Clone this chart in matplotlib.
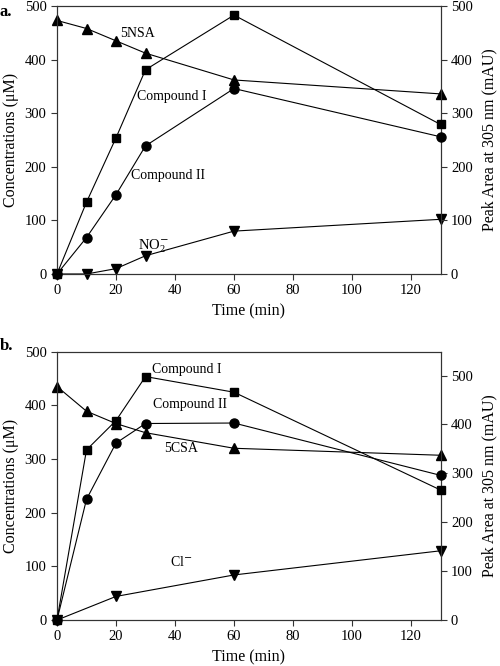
import matplotlib
matplotlib.use("Agg")
import matplotlib.pyplot as plt

plt.rcParams['font.family'] = ['Liberation Serif', 'DejaVu Serif']
plt.rcParams['mathtext.fontset'] = 'custom'
plt.rcParams['mathtext.rm'] = 'Liberation Serif'
plt.rcParams['mathtext.it'] = 'Liberation Serif:italic'

# panel a data
time_a = [0, 10, 20, 30, 60, 130]
nsa_a = [473, 458, 435, 412, 362, 336]          # uM (left)
no2_a = [0, 0, 10, 34, 80, 102]                 # uM (left)
comp1_a = [0, 134, 254, 381, 483, 279]          # mAU (right)
comp2_a = [0, 68, 148, 239, 346, 256]           # mAU (right)

# panel b data
time_b = [0, 10, 20, 30, 60, 130]
csa_b = [435, 389, 366, 349, 320, 307]          # uM (left)
time_cl = [0, 20, 60, 130]
cl_b = [0, 44, 84, 129]                         # uM (left)
comp1_b = [0, 348, 408, 498, 466, 266]          # mAU (right)
comp2_b = [0, 247, 362, 402, 403, 296]          # mAU (right)

fig = plt.figure(figsize=(5, 6.66), dpi=100)

def setup(ax, ax2, right_max):
    ax.set_xlim(0, 130)
    ax.set_ylim(0, 500)
    ax2.set_ylim(0, right_max)
    ax.set_xticks([0, 20, 40, 60, 80, 100, 120])
    ax.set_yticks([0, 100, 200, 300, 400, 500])
    ax2.set_yticks([0, 100, 200, 300, 400, 500])
    for a in (ax, ax2):
        a.tick_params(direction='out', length=4, width=0.8, labelsize=10.5, color='#333333')
        for s in a.spines.values():
            s.set_linewidth(0.8)
            s.set_color('#333333')
    ax.set_xlabel('Time (min)', fontsize=11.5, labelpad=4.5)
    ax.set_ylabel('Concentrations (μM)', fontsize=11.5, labelpad=4)
    ax2.set_ylabel('Peak Area at 305 nm (mAU)', fontsize=11.5, labelpad=6)

lw = 0.8
ms = 6.5

# ---- panel a ----
ax = fig.add_axes([0.114, 0.5886, 0.767, 0.4024])
ax2 = ax.twinx()
setup(ax, ax2, 500)
ax.plot(time_a, nsa_a, '-^', color='black', lw=lw, ms=ms, clip_on=False, zorder=3)
ax.plot(time_a, no2_a, '-v', color='black', lw=lw, ms=ms, clip_on=False, zorder=3)
ax2.plot(time_a, comp1_a, '-s', color='black', lw=lw, ms=ms - 0.5, clip_on=False, zorder=3)
ax2.plot(time_a, comp2_a, '-o', color='black', lw=lw, ms=ms, clip_on=False, zorder=3)
ax.text(21.5, 449, '5NSA', fontsize=10, va='center')
ax.text(27, 331, 'Compound I', fontsize=10, va='center')
ax.text(25, 183, 'Compound II', fontsize=10, va='center')
ax.text(27.5, 51, r'NO$_2^{\mathsf{-}}$', fontsize=10.5, va='center')
fig.text(0.0, 0.982, 'a.', fontsize=12, fontweight='bold', va='center')

# ---- panel b ----
bx = fig.add_axes([0.114, 0.069, 0.767, 0.403])
bx2 = bx.twinx()
setup(bx, bx2, 549)
bx.plot(time_b, csa_b, '-^', color='black', lw=lw, ms=ms, clip_on=False, zorder=3)
bx.plot(time_cl, cl_b, '-v', color='black', lw=lw, ms=ms, clip_on=False, zorder=3)
bx2.plot(time_b, comp1_b, '-s', color='black', lw=lw, ms=ms - 0.5, clip_on=False, zorder=3)
bx2.plot(time_b, comp2_b, '-o', color='black', lw=lw, ms=ms, clip_on=False, zorder=3)
bx.text(32.1, 466, 'Compound I', fontsize=10, va='center')
bx.text(32.4, 401, 'Compound II', fontsize=10, va='center')
bx.text(36.4, 319, '5CSA', fontsize=10, va='center')
bx.text(38.3, 109, r'Cl$^{\mathsf{-}}$', fontsize=10, va='center')
fig.text(0.0, 0.48, 'b.', fontsize=12, fontweight='bold', va='center')

fig.savefig('out.png', dpi=100)
